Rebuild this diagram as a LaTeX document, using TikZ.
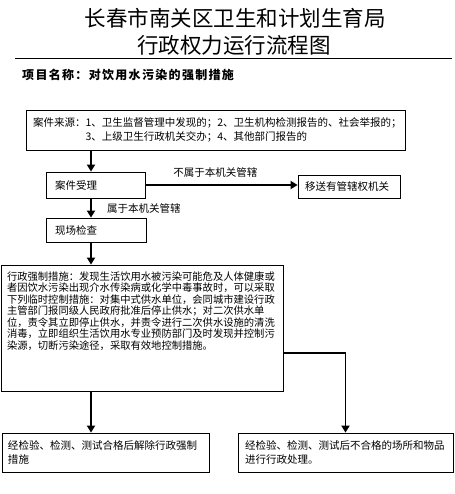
\documentclass[tikz,border=0pt]{standalone}
\usepackage{fontspec}
\setmainfont{Noto Sans CJK SC}
\newfontfamily\spacedfont{Noto Sans CJK SC}[LetterSpace=11]
\usetikzlibrary{arrows.meta,calc}

\begin{document}
\begin{tikzpicture}[
    x=1pt, y=-1pt,
    box/.style = {rectangle, draw, line width=0.8pt, align=left, font=\fontsize{10.5}{14}\selectfont},
    flow/.style = {-{Triangle[width=8pt,length=7pt]}, line width=1.8pt},
    tag/.style = {font=\fontsize{10.5}{14}\selectfont}
]
    \useasboundingbox (0,0) rectangle (454,494);
    % Heading
    \node[font=\fontsize{21.5}{26}\selectfont] (title1) at (235,18) {长春市南关区卫生和计划生育局};
    \node[font=\fontsize{21.5}{26}\selectfont] (title2) at (234,45) {行政权力运行流程图};
    \draw[line width=0.9pt] (15,58) -- (452,58);
    \node[font=\spacedfont\bfseries\fontsize{12}{14}\selectfont, anchor=west, inner sep=0pt] (project) at (22,75) {项目名称：对饮用水污染的强制措施};
    % Boxes
    \node[box, text width=365pt, inner xsep=7pt, minimum height=40pt] (source) at (215.5,130) {案件来源：1、卫生监督管理中发现的；2、卫生机构检测报告的、社会举报的；\\\hspace*{5em}3、上级卫生行政机关交办；4、其他部门报告的};
    \node[box, text width=81pt, inner xsep=9pt, minimum height=26pt] (accept) at (95.5,185) {案件受理};
    \node[box, text width=88pt, inner xsep=7pt, minimum height=23pt] (transfer) at (349,186.5) {移送有管辖权机关};
    \node[box, text width=82pt, inner xsep=9pt, minimum height=24pt] (inspect) at (96,230) {现场检查};
    \node[box, inner xsep=6pt, inner ysep=5pt] (measure) at (142,328) {\parbox[c][116pt][t]{270pt}{\fontsize{10.3}{11.5}\selectfont\vspace*{1.5pt}
        行政强制措施：发现生活饮用水被污染可能危及人体健康或\\
        者因饮水污染出现介水传染病或化学中毒事故时，可以采取\\
        下列临时控制措施：对集中式供水单位，会同城市建设行政\\
        主管部门报同级人民政府批准后停止供水；对二次供水单\\
        位，责令其立即停止供水，并责令进行二次供水设施的清洗\\
        消毒，立即组织生活饮用水专业预防部门及时发现并控制污\\
        染源，切断污染途径，采取有效地控制措施。}};
    \node[box, text width=195pt, inner xsep=6pt, minimum height=39pt] (pass) at (105.5,452.5) {经检验、检测、测试合格后解除行政强制\\措施};
    \node[box, text width=201pt, inner xsep=7pt, minimum height=39pt] (fail) at (345.5,452.5) {经检验、检测、测试后不合格的场所和物品\\进行行政处理。};
    % Arrows
    \coordinate (spine) at (91,0);
    \coordinate (branch) at (0,353);
    \draw[flow] (source.south -| spine) -- (accept.north -| spine);
    \draw[flow] (accept.east) -- (accept.east -| transfer.west) node[tag, pos=0.46, above=3pt] {不属于本机关管辖};
    \draw[flow] (accept.south -| spine) -- (inspect.north -| spine) node[tag, midway, right=12pt] {属于本机关管辖};
    \draw[flow] (inspect.south -| spine) -- (measure.north -| spine);
    \draw[flow] (measure.south -| spine) -- (pass.north -| spine);
    \draw[flow] (measure.east |- branch) -| (fail.north);
\end{tikzpicture}
\end{document}
